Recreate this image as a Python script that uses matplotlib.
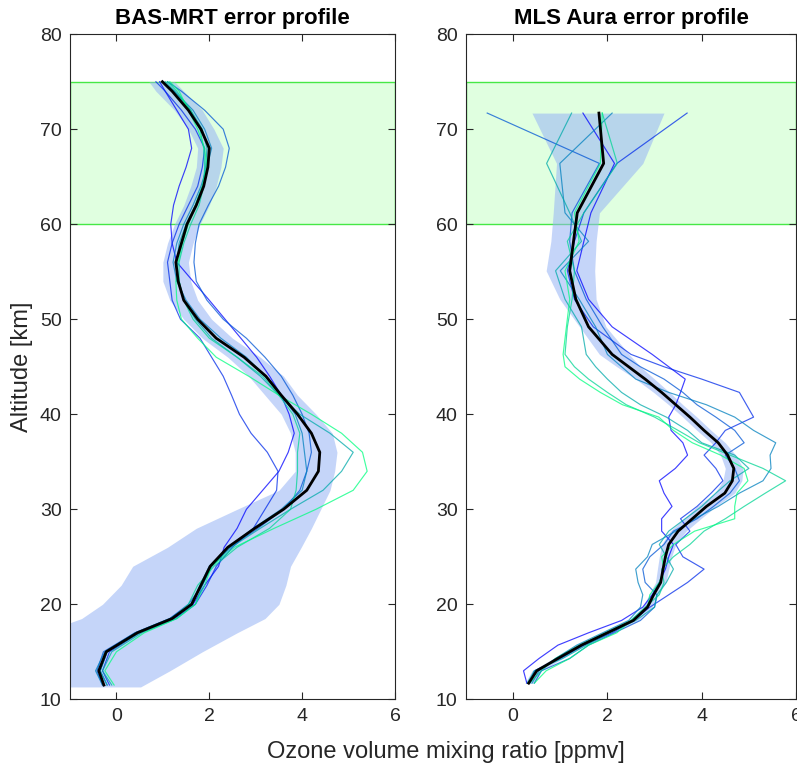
import matplotlib
matplotlib.use("Agg")
import matplotlib.pyplot as plt
import numpy as np

plt.rcParams['font.family'] = ['Liberation Sans', 'DejaVu Sans']

# ---------------- BAS-MRT (left) ----------------
alts_L = [11.5, 13, 15, 17, 18.5, 20, 22, 24, 26, 28, 30, 32, 34, 36, 38, 40, 42,
          44, 46, 48, 50, 52, 54, 56, 58, 60, 62, 64, 66, 68, 70, 72, 74, 75]
mean_L = [-0.27, -0.38, -0.22, 0.45, 1.2, 1.62, 1.82, 2.02, 2.4, 2.98, 3.6, 4.1, 4.35,
          4.38, 4.2, 3.9, 3.55, 3.22, 2.75, 2.15, 1.75, 1.45, 1.33, 1.28, 1.4, 1.52,
          1.72, 1.88, 1.97, 2.0, 1.82, 1.55, 1.2, 0.99]
env_alts_L = [11.3, 13, 15, 17, 18.5, 20, 22, 24, 26, 28, 30, 32, 34, 36, 38, 40, 42,
              44, 46, 48, 50, 52, 54, 56, 58, 60, 62, 64, 66, 68, 70, 72, 74, 75]
env_lo_L = [-1.6, -1.6, -1.6, -1.6, -0.75, -0.3, 0.1, 0.35, 1.1, 1.72, 2.6, 3.5, 3.85,
            3.85, 3.75, 3.55, 3.2, 2.85, 2.4, 1.85, 1.45, 1.15, 1.0, 1.0, 1.1, 1.25,
            1.45, 1.6, 1.72, 1.75, 1.55, 1.25, 0.85, 0.7]
env_hi_L = [0.52, 1.15, 1.85, 2.6, 3.2, 3.5, 3.65, 3.75, 3.98, 4.2, 4.4, 4.6, 4.7,
            4.75, 4.65, 4.3, 3.9, 3.6, 3.1, 2.5, 2.05, 1.75, 1.6, 1.55, 1.65, 1.8,
            2.0, 2.15, 2.25, 2.3, 2.1, 1.85, 1.45, 1.25]
lines_L = [
    [-0.2, -0.35, -0.2, 0.45, 1.2, 1.65, 1.9, 2.2, 2.32, 2.6, 2.8, 3.15, 3.5, 3.7, 3.83,
     3.72, 3.55, 3.3, 3.02, 2.68, 2.34, 2.0, 1.65, 1.3, 1.2, 1.17, 1.23, 1.35, 1.5, 1.62,
     1.55, 1.3, 1.05, 0.93],
    [-0.15, -0.3, -0.15, 0.5, 1.25, 1.7, 1.95, 2.15, 2.5, 2.95, 3.2, 3.45, 3.48, 3.25,
     2.9, 2.65, 2.48, 2.3, 2.05, 1.8, 1.38, 1.2, 1.15, 1.1, 1.2, 1.35, 1.55, 1.75, 1.85,
     1.9, 1.7, 1.4, 1.05, 0.85],
    [-0.3, -0.42, -0.28, 0.4, 1.15, 1.55, 1.85, 2.05, 2.45, 3.05, 3.6, 3.95, 4.1, 4.2,
     4.15, 4.0, 3.8, 3.55, 3.2, 2.8, 2.3, 1.95, 1.72, 1.67, 1.7, 1.78, 1.98, 2.2, 2.35,
     2.43, 2.3, 1.9, 1.4, 1.1],
    [-0.3, -0.45, -0.25, 0.4, 1.15, 1.6, 1.8, 2.0, 2.4, 2.95, 3.55, 4.0, 4.1, 4.05, 4.0,
     3.85, 3.55, 3.2, 2.8, 2.25, 1.8, 1.5, 1.3, 1.22, 1.3, 1.45, 1.65, 1.82, 1.95, 2.05,
     1.9, 1.65, 1.25, 1.0],
    [-0.1, -0.3, -0.1, 0.55, 1.3, 1.7, 1.85, 2.05, 2.47, 3.1, 3.75, 4.45, 4.85, 5.1, 4.6,
     3.95, 3.5, 3.1, 2.6, 2.05, 1.7, 1.45, 1.35, 1.3, 1.35, 1.5, 1.7, 1.85, 1.92, 1.95,
     1.85, 1.6, 1.25, 1.05],
    [-0.2, -0.35, -0.2, 0.5, 1.2, 1.55, 1.75, 2.1, 2.6, 3.3, 3.75, 3.87, 3.9, 3.9, 3.95,
     3.8, 3.5, 3.15, 2.6, 2.0, 1.65, 1.45, 1.35, 1.35, 1.45, 1.6, 1.78, 1.88, 1.9, 1.88,
     1.8, 1.6, 1.3, 1.1],
    [-0.05, -0.25, 0.0, 0.6, 1.3, 1.7, 1.9, 2.05, 2.54, 3.4, 4.3, 5.1, 5.4, 5.3, 4.85,
     4.2, 3.5, 2.85, 2.15, 1.75, 1.4, 1.3, 1.28, 1.33, 1.42, 1.55, 1.7, 1.85, 1.95, 1.9,
     1.75, 1.55, 1.35, 1.15],
]

# ---------------- MLS Aura (right) ----------------
alts_R = [11.7, 13.0, 14.3, 15.7, 17.0, 18.3, 19.7, 21.0, 22.3, 23.7, 25.0, 26.3, 27.7,
          29.0, 30.3, 31.7, 33.0, 34.3, 35.7, 37.0, 38.3, 39.7, 41.0, 42.3, 43.7, 45.0,
          46.3, 49.2, 52.1, 55.1, 58.2, 61.2, 66.4, 71.7]
mean_R = [0.33, 0.5, 0.95, 1.45, 2.0, 2.55, 2.85, 2.98, 3.13, 3.18, 3.23, 3.3, 3.5, 3.8,
          4.1, 4.49, 4.65, 4.68, 4.55, 4.35, 4.05, 3.75, 3.45, 3.15, 2.8, 2.45, 2.1, 1.6,
          1.33, 1.2, 1.28, 1.36, 1.92, 1.82]
env_lo_R = [0.25, 0.4, 0.85, 1.35, 1.9, 2.45, 2.75, 2.88, 3.02, 3.06, 3.1, 3.15, 3.33,
            3.62, 3.9, 4.28, 4.45, 4.5, 4.4, 4.2, 3.9, 3.6, 3.3, 2.98, 2.6, 2.2, 1.83,
            1.41, 0.99, 0.7, 0.8, 0.85, 0.92, 0.4]
env_hi_R = [0.42, 0.6, 1.05, 1.55, 2.1, 2.65, 2.95, 3.08, 3.24, 3.3, 3.36, 3.45, 3.67,
            3.98, 4.3, 4.7, 4.85, 4.88, 4.72, 4.5, 4.2, 3.9, 3.6, 3.32, 3.0, 2.7, 2.46,
            1.97, 1.76, 1.73, 1.76, 1.83, 2.75, 3.2]
lines_R = [
    [0.29, 0.22, 0.55, 0.95, 1.6, 2.3, 2.75, 2.95, 3.1, 3.23, 3.3, 3.4, 3.15, 3.15, 3.37,
     3.2, 3.1, 3.44, 3.7, 3.6, 3.35, 3.3, 3.45, 3.55, 3.65, 3.3, 2.95, 2.1, 1.6, 1.35,
     1.5, 1.65, 2.15, 1.48],
    [0.35, 0.45, 1.0, 1.5, 2.1, 2.55, 2.9, 3.3, 3.7, 4.05, 3.6, 3.45, 3.75, 3.55, 3.9,
     4.2, 4.45, 4.3, 4.05, 4.3, 4.5, 5.1, 4.95, 4.8, 4.0, 3.2, 2.5, 1.7, 1.3, 1.15, 1.3,
     1.5, 2.2, 3.69],
    [0.45, 0.6, 1.2, 1.6, 2.15, 2.7, 3.0, 3.05, 2.8, 2.75, 2.9, 3.2, 3.4, 3.9, 4.25, 4.6,
     4.8, 4.7, 4.5, 4.9, 4.7, 4.3, 3.9, 3.6, 3.2, 2.7, 2.3, 1.9, 1.55, 1.3, 1.2, 1.25,
     1.83, -0.55],
    [0.4, 0.55, 0.9, 1.35, 1.9, 2.45, 2.7, 2.75, 2.65, 2.6, 2.85, 2.95, 3.45, 3.85, 4.35,
     4.8, 5.3, 5.47, 5.45, 5.57, 5.1, 4.7, 4.1, 3.3, 2.6, 2.3, 2.0, 1.75, 1.4, 1.0, 1.6,
     1.1, 0.99, 2.1],
    [0.3, 0.45, 1.05, 1.55, 2.05, 2.6, 3.0, 3.05, 3.25, 3.4, 3.25, 3.1, 3.3, 3.65, 4.0,
     4.3, 4.6, 5.0, 4.7, 4.0, 3.7, 3.25, 2.7, 2.3, 2.0, 1.75, 1.55, 1.45, 1.1, 0.9, 1.45,
     1.2, 0.71, 1.24],
    [0.35, 0.6, 0.9, 1.4, 1.95, 2.5, 2.8, 3.1, 3.2, 3.15, 3.4, 3.75, 4.05, 4.5, 4.9, 5.35,
     5.78, 5.3, 4.6, 3.95, 3.5, 3.0, 2.4, 2.0, 1.6, 1.3, 1.1, 1.15, 1.25, 1.3, 1.15, 1.5,
     2.21, 1.89],
    [0.45, 0.7, 1.2, 1.6, 2.2, 2.5, 2.85, 2.9, 3.1, 3.2, 3.15, 3.4, 3.85, 4.7, 4.7, 4.75,
     4.98, 4.9, 4.4, 3.8, 3.4, 3.09, 2.32, 1.85, 1.41, 1.1, 1.06, 1.13, 1.2, 1.1, 1.4,
     1.3, 1.85, 1.89],
]

titles = ["BAS-MRT error profile", "MLS Aura error profile"]
xticks = [0, 2, 4, 6]
yticks = [10, 20, 30, 40, 50, 60, 70, 80]
band = (60, 75)

W, H = 797, 769
fig = plt.figure(figsize=(W / 100, H / 100), dpi=100)
axL = fig.add_axes([70 / W, 1 - 699.3 / H, 325 / W, 665.1 / H])
axR = fig.add_axes([466 / W, 1 - 699.3 / H, 330 / W, 665.1 / H])

spine_c = '#262626'
env_color = (150 / 255, 180 / 255, 245 / 255)

def style(ax, title):
    ax.set_xlim(-1, 6)
    ax.set_ylim(10, 80)
    ax.set_xticks(xticks)
    ax.set_yticks(yticks)
    ax.tick_params(direction='in', top=True, right=True, length=5, width=0.8,
                   colors=spine_c, labelsize=14, pad=6)
    for s in ax.spines.values():
        s.set_color(spine_c)
        s.set_linewidth(0.8)
    ax.set_title(title, fontsize=16, fontweight='bold', pad=7, color='black')
    ax.axhspan(band[0], band[1], facecolor=(0, 1, 0, 0.12),
               edgecolor=(0.2, 0.9, 0.2, 0.9), linewidth=1.0, zorder=0)

cmap = plt.get_cmap('winter')

# left
style(axL, titles[0])
axL.fill_betweenx(env_alts_L, env_lo_L, env_hi_L, color=env_color, alpha=0.55,
                  linewidth=0, zorder=1)
n = len(lines_L)
for i, ln in enumerate(lines_L):
    axL.plot(ln, alts_L, color=cmap(i / (n - 1)), lw=0.85, alpha=0.75, zorder=2)
axL.plot(mean_L, alts_L, color='black', lw=2.0, zorder=3)

# right
style(axR, titles[1])
axR.fill_betweenx(alts_R, env_lo_R, env_hi_R, color=env_color, alpha=0.55,
                  linewidth=0, zorder=1)
n = len(lines_R)
for i, ln in enumerate(lines_R):
    axR.plot(ln, alts_R, color=cmap(i / (n - 1)), lw=0.85, alpha=0.75, zorder=2)
axR.plot(mean_R, alts_R, color='black', lw=2.0, zorder=3)

fig.text(22 / W, 1 - 367 / H, 'Altitude [km]', rotation=90, ha='center', va='center',
         fontsize=17, color=spine_c)
fig.text(446 / W, 1 - 752 / H, 'Ozone volume mixing ratio [ppmv]', ha='center',
         va='center', fontsize=17, color=spine_c)

fig.savefig('out.png', dpi=100)
